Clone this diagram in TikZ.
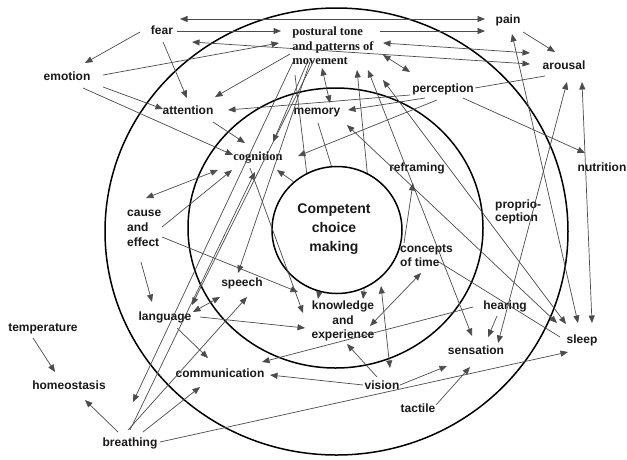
\documentclass[tikz,border=0pt]{standalone}
\usepackage{fontspec}
\setmainfont{Liberation Serif}
\setsansfont{Liberation Sans}
\usetikzlibrary{arrows.meta,calc,shapes.geometric}
\begin{document}
\begin{tikzpicture}[x=1pt,y=-1pt,
  >={Triangle[length=7.5pt,width=6pt]},
  lab/.style={font=\sffamily\bfseries\fontsize{12}{14}\selectfont, inner sep=1pt, text=black!90},
  one/.style={lab, text height=8.5pt, text depth=2.5pt},
  slab/.style={font=\rmfamily\bfseries\fontsize{12.5}{14.5}\selectfont, inner sep=1pt, text=black!90},
  con/.style={draw=black!70, line width=0.7pt},
  ar/.style={con,->}, dar/.style={con,<->}, ln/.style={con},
  circ/.style={draw=black, line width=1.5pt}]
\fill[white] (0,0) rectangle (627,459);
\useasboundingbox (0,0) rectangle (627,459);
% circles
\draw[circ] (336.5,231.5) ellipse [x radius=231.5pt, y radius=223.5pt];
\draw[circ] (335.5,228) ellipse [x radius=147.5pt, y radius=140pt];
\node[circ, ellipse, minimum width=130pt, minimum height=127pt, inner sep=0pt] (inner) at (337,230) {};
\node[font=\sffamily\bfseries\fontsize{14}{19}\selectfont, align=center, text=black!90] (cc) at (334,229) {Competent\\choice\\making};
% labels
\node[one] (fear) at (162,31) {fear};
\node[one] (pain) at (508,20) {pain};
\node[slab, align=left] (post) at (333,46) {postural tone\\and patterns of\\movement};
\node[one] (arousal) at (564,66) {arousal};
\node[one] (emotion) at (67,77) {emotion};
\node[one] (attention) at (188,111) {attention};
\node[one] (memory) at (317,111) {memory};
\node[one] (perception) at (443,89) {perception};
\node[one] (nutrition) at (602,168) {nutrition};
\node[slab, text height=8.5pt, text depth=2.5pt] (cognition) at (258,157) {cognition};
\node[one] (reframing) at (417,168) {reframing};
\node[lab, font=\sffamily\bfseries\fontsize{12}{15}\selectfont, align=left, anchor=west] (cause) at (126,228) {cause\\and\\effect};
\node[lab, font=\sffamily\bfseries\fontsize{12}{13}\selectfont, align=left, anchor=west] (proprio) at (494,212) {proprio-\\ception};
\node[lab, align=left, anchor=west] (concepts) at (399,256) {concepts\\of time};
\node[one] (speech) at (242,283) {speech};
\node[one] (language) at (165,317) {language};
\node[one] (temperature) at (43,328) {temperature};
\node[lab, font=\sffamily\bfseries\fontsize{12}{14.5}\selectfont, align=center] (knowledge) at (343,321) {knowledge\\and\\experience};
\node[one] (hearing) at (505,306) {hearing};
\node[one] (sleep) at (582,340) {sleep};
\node[one] (sensation) at (476,351) {sensation};
\node[one] (communication) at (220,374) {communication};
\node[one] (homeostasis) at (69,386) {homeostasis};
\node[one] (vision) at (382,386) {vision};
\node[one] (tactile) at (418,409) {tactile};
\node[one] (breathing) at (130,443) {breathing};
% connectors
\draw[dar] ($(fear)+(18,-12)$) -- ($(pain)+(-23,-1)$);
\draw[ar] ($(fear)+(15,0)$) -- ($(post)+(-52,-15)$);
\draw[ar] ($(post)+(47,-15)$) -- ($(pain)+(-23,11)$);
\draw[dar] ($(fear)+(30,11)$) -- ($(arousal)+(-34,-2)$);
\draw[dar] ($(post)+(50,-3)$) -- ($(arousal)+(-34,-13)$);
\draw[ar] ($(emotion)+(36,-2)$) -- ($(post)+(-54,-3)$);
\draw[ar] ($(fear)+(-22,1)$) -- ($(emotion)+(18,-14)$);
\draw[ar] ($(fear)+(1,11)$) -- ($(attention)+(-1,-13)$);
\draw[ar] ($(emotion)+(36,10)$) -- ($(attention)+(-25,-2)$);
\draw[ar] ($(emotion)+(16,11)$) -- ($(cognition)+(-25,-2)$);
\draw[ar] ($(post)+(-43,8)$) -- ($(attention)+(27,-14)$);
\draw[ar] ($(attention)+(25,11)$) -- ($(cognition)+(-13,-14)$);
\draw[ar] ($(post)+(-26,17)$) -- ($(cognition)+(15,-15)$);
\draw[dar] ($(post)+(-11,22)$) -- ($(memory)+(13,-8)$);
\draw[ar] (inner.62) -- ($(post)+(24,24)$);
\draw[dar] ($(post)+(35,24)$) -- ($(sensation)+(-4,-15)$);
\draw[dar] ($(post)+(50,34)$) -- ($(sleep)+(-16,-16)$);
\draw[ar] ($(post)+(-40,16)$) -- ($(breathing)+(3,-41)$);
\draw[ar] ($(post)+(-23,16)$) -- ($(speech)+(-4,-10)$);
\draw[ar] ($(post)+(-19,14)$) -- ($(language)+(27,-12)$);
\draw[ln] ($(post)+(-38,29)$) -- (inner.118);
\draw[ln] ($(memory)+(1,12)$) -- (inner.95);
\draw[ar] ($(perception)+(-33,6)$) -- ($(attention)+(40,-1)$);
\draw[ar] ($(perception)+(-18,9)$) -- ($(memory)+(31,-1)$);
\draw[ar] ($(perception)+(-6,11)$) -- ($(cognition)+(40,-1)$);
\draw[dar] ($(post)+(50,9)$) -- ($(perception)+(-33,-17)$);
\draw[ln] ($(perception)+(32,-1)$) -- ($(arousal)+(-19,10)$);
\draw[ar] ($(perception)+(20,9)$) -- ($(nutrition)+(-17,-15)$);
\draw[ar] ($(pain)+(15,12)$) -- ($(arousal)+(-9,-14)$);
\draw[dar] ($(pain)+(4,14)$) -- ($(sleep)+(-4,-17)$);
\draw[dar] ($(arousal)+(18,16)$) -- ($(sleep)+(10,-17)$);
\draw[dar] ($(arousal)+(3,16)$) -- ($(sensation)+(22,-8)$);
\draw[dar] ($(memory)+(30,14)$) -- ($(sleep)+(-25,-17)$);
\draw[ar] ($(concepts.west)+(5,-13)$) -- ($(reframing)+(-4,15)$);
\draw[ln] ($(concepts.west)+(40,6)$) -- ($(sleep)+(-22,-3)$);
\draw[dar] ($(concepts.west)+(22,17)$) -- ($(knowledge)+(27,5)$);
\draw[dar] ($(cause.west)+(20,-30)$) -- ($(cognition)+(-40,13)$);
\draw[ar] ($(cause.west)+(36,-1)$) -- ($(cognition)+(-26,13)$);
\draw[ar] ($(breathing)+(0,-13)$) -- ($(cognition)+(-3,15)$);
\draw[ar] (inner.132) -- ($(cognition)+(19,13)$);
\draw[ar] ($(cognition)+(-8,11)$) -- ($(knowledge)+(-40,-8)$);
\draw[ar] ($(cause.west)+(36,9)$) -- ($(knowledge)+(-45,-29)$);
\draw[ar] (inner.254) -- ($(knowledge)+(-25,-22)$);
\draw[ar] (inner.295) -- ($(knowledge)+(20,-22)$);
\draw[dar] ($(knowledge)+(38,-35)$) -- ($(vision)+(8,-18)$);
\draw[dar] ($(language)+(28,-5)$) -- ($(speech)+(-22,14)$);
\draw[ar] ($(breathing)+(-2,-13)$) -- ($(speech)+(5,14)$);
\draw[ar] ($(language)+(35,0)$) -- ($(knowledge)+(-38,7)$);
\draw[ar] ($(language)+(12,11)$) -- ($(communication)+(-12,-16)$);
\draw[ar] ($(cause.west)+(15,34)$) -- ($(language)+(-13,-15)$);
\draw[ar] ($(temperature)+(-10,10)$) -- ($(homeostasis)+(-14,-14)$);
\draw[ar] ($(breathing)+(-12,-11)$) -- ($(homeostasis)+(16,14)$);
\draw[ar] ($(breathing)+(13,-11)$) -- ($(communication)+(-20,13)$);
\draw[ar] ($(breathing)+(30,-1)$) -- ($(sleep)+(-14,12)$);
\draw[ar] ($(hearing)+(-32,1)$) -- ($(communication)+(42,-12)$);
\draw[ar] ($(hearing)+(-8,10)$) -- ($(sensation)+(12,-14)$);
\draw[ar] ($(vision)+(-5,-9)$) -- ($(knowledge)+(4,23)$);
\draw[ar] ($(vision)+(-19,-1)$) -- ($(communication)+(50,1)$);
\draw[ar] ($(vision)+(18,-1)$) -- ($(sensation)+(-29,15)$);
\draw[ar] ($(tactile)+(18,-4)$) -- ($(sensation)+(-6,16)$);
\end{tikzpicture}
\end{document}
